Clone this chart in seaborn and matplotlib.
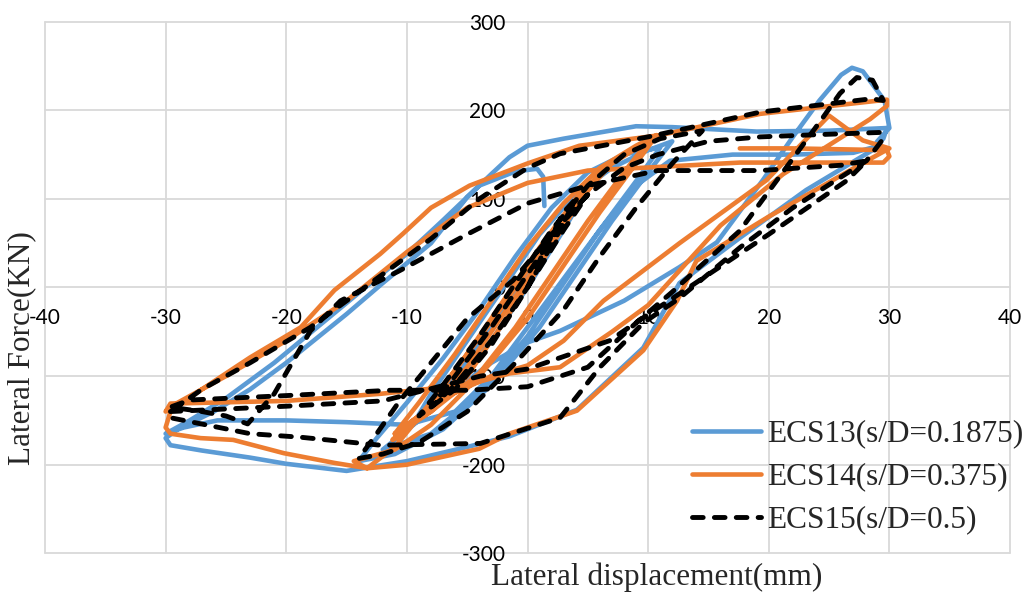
import matplotlib
matplotlib.use("Agg")
import matplotlib.pyplot as plt
import seaborn as sns
from matplotlib.lines import Line2D

# ---- hysteresis data: lateral displacement (mm) vs lateral force (kN) ----
ecs13_x = [0, 1.5, 3, 4.5,
           3, 0, -3, -6, -8.5,
           -7, -4, -1, 2, 4,
           2, -1, -4, -7, -9.5,
           -8, -5, -2, 1, 4, 7, 10, 12,
           10, 7, 4, 1, -3, -7, -11, -14,
           -12.5, -10, -7, -4, -1, 2, 5, 8, 11,
           9, 6, 3, 0, -4, -8, -12,
           -9, -6, -3, 0, 2.7, 8, 12.6, 15.7, 19.5, 22, 24.2, 26, 26.9, 27.8, 29, 29.6, 30,
           29, 28.6, 23.1, 17.6, 12.6, 9.6, 4.1, -1.5, -5, -10, -15, -20, -23, -27, -29.6, -30,
           -29, -26, -23, -20, -15, -12, -8, -5, -3, -1.5, 0, 3, 9, 12, 19, 25, 29.8,
           29.5, 28.6, 27, 22, 17, 11.8, 9, 6, 3, 0, -3, -6, -10, -15, -20, -25.7, -28.5, -30,
           -28, -25, -21, -17, -13, -10, -7, -4, -1, 0.8, 1.3, 1.4]
ecs13_y = [0, 40, 75, 100,
           65, 0, -60, -110, -145,
           -115, -60, 0, 60, 95,
           55, -5, -65, -120, -155,
           -120, -60, 0, 60, 105, 135, 155, 165,
           130, 75, 15, -45, -110, -160, -188, -196,
           -170, -130, -80, -25, 35, 90, 130, 150, 158,
           120, 65, 5, -55, -120, -165, -183,
           -150, -115, -85, -62, -49, -15, 23, 51, 121, 170, 211, 240, 248, 244, 222, 211, 180,
           165, 155, 110, 56, 5, -68, -138, -168, -180, -196, -207, -199, -192, -184, -178, -170,
           -160, -140, -115, -85, -30, 5, 50, 102, 128, 147, 160, 168, 182, 181, 176, 177, 180,
           168, 158, 152, 150, 150, 143, 115, 65, 10, -45, -100, -140, -155, -152, -150, -150, -158, -165,
           -150, -125, -85, -40, 5, 38, 76, 115, 131, 134, 125, 92]

ecs14_x = [0, 2, 4, 5,
           3.5, 1, -2, -5, -8, -10.5, -11.2, -10.5,
           -8, -5, -2, 1, 4, 6,
           4, 1, -2, -5, -8, -11,
           -9, -6, -3, 0, 3, 6, 9, 10.7,
           9, 6, 3, 0, -4, -8, -11, -14.4, -13.3,
           -11, -8, -5, -2, 1, 4, 7, 10,
           8, 5, 2, -1, -4, -8, -11,
           -7, -3, 0, 3, 6.3, 12.6, 19.8, 25, 27.8, 30,
           28, 20, 14, 12.4, 9.6, 4.1, -1.5, -4, -10, -13.3, -16, -20.2, -24.4, -27.1, -29.6, -30,
           -29.6, -27, -23, -18.8, -16, -12.2, -10.3, -8, -4.8, 0, 4.3, 11, 19.3, 29.8,
           29.8, 28.4, 21.2, 16, 13, 10, 7, 2.7, -1.5, -5, -12.2, -20, -29.6, -30,
           -29, -25, -20, -15, -10, -5, 0, 5, 10.8, 17.6, 25, 29.5, 30, 29.8, 22, 17.6]
ecs14_y = [0, 55, 100, 118,
           80, 25, -40, -100, -140, -163, -172, -168,
           -130, -75, -15, 45, 100, 128,
           90, 30, -30, -90, -135, -165,
           -130, -75, -15, 45, 95, 135, 160, 172,
           140, 85, 25, -35, -100, -155, -183, -196, -204,
           -180, -130, -75, -20, 40, 95, 140, 165,
           130, 75, 15, -45, -97, -140, -165,
           -125, -100, -88, -60, -15, 50, 121, 194, 166, 157,
           142, 80, 30, -15, -71, -139, -165, -182, -200, -204, -198, -187, -172, -170, -165, -158,
           -140, -115, -79, -45, -3, 38, 61, 90, 115, 140, 160, 172, 196, 212,
           205, 190, 128, 70, 25, -20, -50, -90, -97, -110, -120, -128, -131, -140,
           -130, -100, -60, -15, 40, 90, 118, 132, 136, 141, 141, 141, 148, 155, 157, 157]

ecs15_x = [0, 1.5, 3, 4,
           2.5, 0, -3, -6, -8,
           -6, -3, 0, 3, 5,
           3, 0, -3, -6, -9,
           -7, -4, -1, 2, 5, 8, 11, 14.5,
           12, 9, 6, 3, -1, -5, -9, -12, -14,
           -12.5, -10.6, -8, -5, -1.2, 2, 5, 8, 10.8,
           15, 19.3, 25, 29.2, 29.5, 28.1,
           22, 17.6, 12.6, 9.6, 6, 2.7, 0.2, -3.9, -12.2, -18.8, -23, -29.6,
           -29.6, -27, -23, -18, -13, -8, -4, 0, 2.7, 10, 19.3, 28.5, 29.5,
           28.6, 27.3, 25.9, 24.5, 21.7, 19, 17.6, 14, 12, 9, 5, 0, -5, -11.4, -20, -28, -29.6,
           -27, -25, -23.2, -21, -18, -15.5, -10.6, -5, 0, 5, 10.8, 19.3, 26, 28.1,
           26.5, 20, 12.6, 9.6, 6.8, 0, -3.9, -12, -20, -29.6]
ecs15_y = [0, 45, 85, 100,
           60, 0, -60, -110, -135,
           -100, -45, 15, 75, 105,
           65, 0, -65, -115, -145,
           -110, -55, 5, 65, 115, 150, 168, 177,
           140, 90, 35, -25, -85, -140, -175, -188, -193,
           -165, -128, -85, -35, 8, 60, 105, 135, 150,
           165, 170, 173, 175, 168, 143,
           90, 45, -12, -40, -90, -147, -158, -176, -178, -169, -165, -147,
           -140, -115, -85, -45, 5, 55, 100, 135, 151, 170, 198, 213, 211,
           234, 237, 219, 192, 140, 90, 64, 20, -5, -40, -90, -112, -116, -116, -122, -127, -135,
           -140, -145, -154, -120, -49, -15, 19, 60, 95, 115, 132, 132, 138, 143,
           121, 60, -7, -34, -60, -92, -100, -128, -134, -140]

series_names = ["ECS13(s/D=0.1875)", "ECS14(s/D=0.375)", "ECS15(s/D=0.5)"]
series_colors = ["#5B9BD5", "#ED7D31", "#000000"]

x_ticks = list(range(-40, 41, 10))
y_ticks = list(range(-300, 301, 100))

sns.set_style("white")
plt.rcParams["axes.unicode_minus"] = False

W, H = 1031, 595
fig = plt.figure(figsize=(W / 100, H / 100), dpi=100)
ax = fig.add_axes([45 / W, 1 - 553.3 / H, 965 / W, 531.6 / H])

# axes cross at the origin (set before the tick labels, since it resets ticks)
ax.spines["left"].set_position(("data", 0))
ax.spines["bottom"].set_position(("data", 0))
for s in ax.spines.values():
    s.set_visible(False)

solid_lw = 3.3
dash_lw = 3.5
dash_style = (0, (2.2, 2.3))
solid_kw = dict(linewidth=solid_lw, solid_capstyle="round", solid_joinstyle="round")
sns.lineplot(x=ecs13_x, y=ecs13_y, sort=False, estimator=None, ax=ax,
             color=series_colors[0], **solid_kw)
sns.lineplot(x=ecs14_x, y=ecs14_y, sort=False, estimator=None, ax=ax,
             color=series_colors[1], **solid_kw)
sns.lineplot(x=ecs15_x, y=ecs15_y, sort=False, estimator=None, ax=ax,
             color=series_colors[2], linewidth=dash_lw, linestyle=dash_style,
             dash_capstyle="round", dash_joinstyle="round")

ax.set_xlim(-40, 40)
ax.set_ylim(-300, 300)
ax.set_xticks(x_ticks)
ax.set_yticks(y_ticks)
tick_font = dict(family="Lato", size=15, color="#000000")
ax.set_xticklabels([str(v) for v in x_ticks], **tick_font)
ax.set_yticklabels([str(v) for v in y_ticks], **tick_font)
ax.tick_params(axis="both", length=0)
ax.tick_params(axis="y", pad=16)
ax.tick_params(axis="x", pad=15)

# light grey grid, including the outer frame lines
ax.grid(True, color="#d9d9d9", linewidth=1.3)
ax.set_axisbelow(True)
for gl in ax.get_xgridlines() + ax.get_ygridlines():
    gl.set_clip_on(False)

label_font = dict(family="Liberation Serif", size=22.5)
ax.set_xlabel("Lateral displacement(mm)", **label_font)
ax.xaxis.set_label_coords((657 - 45) / 965, (553.3 - 577) / 531.6)
ax.xaxis.label.set_va("center")
ax.set_ylabel("Lateral Force(KN)", **label_font)
ax.yaxis.set_label_coords((22 - 45) / 965, (553.3 - 348) / 531.6)
ax.yaxis.label.set_va("center")

handles = [
    Line2D([], [], color=series_colors[0], linewidth=solid_lw, solid_capstyle="round"),
    Line2D([], [], color=series_colors[1], linewidth=solid_lw, solid_capstyle="round"),
    Line2D([], [], color=series_colors[2], linewidth=dash_lw, linestyle=dash_style,
           dash_capstyle="round"),
]
ax.legend(handles, series_names, loc="center left",
          bbox_to_anchor=(692 / W, 1 - 477 / H), bbox_transform=fig.transFigure,
          frameon=False, prop=dict(family="Liberation Serif", size=22.5),
          handlelength=2.2, handletextpad=0.2, labelspacing=0.45,
          borderpad=0, borderaxespad=0)

fig.savefig("out.png", dpi=100)
